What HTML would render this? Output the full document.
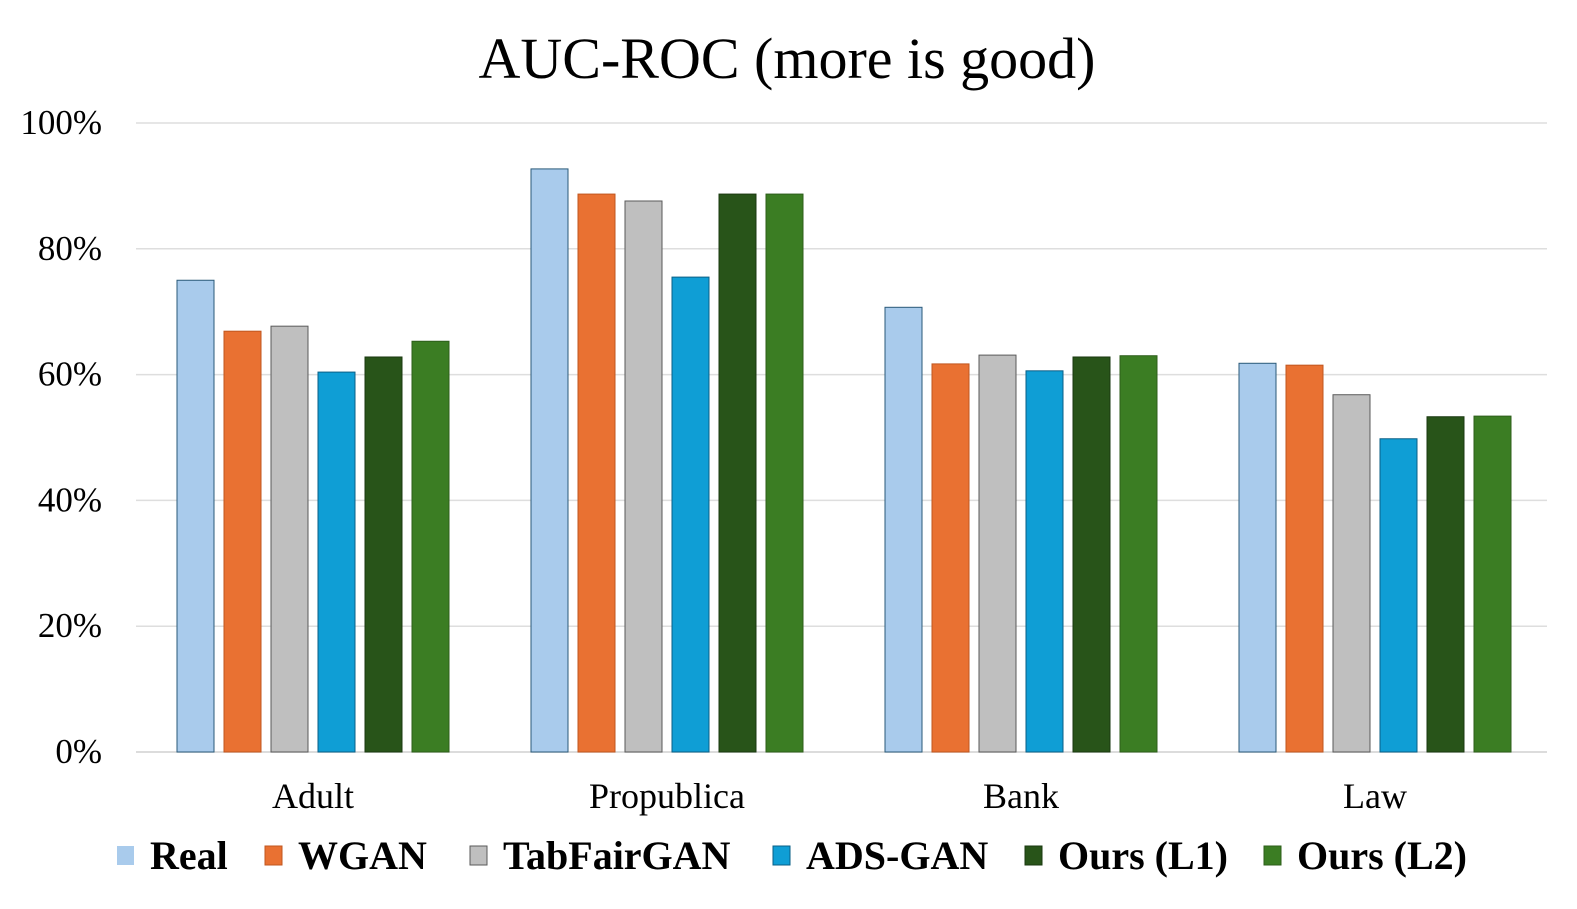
<!DOCTYPE html>
<html><head><meta charset="utf-8"><style>
body{margin:0;background:#fff}
svg{display:block;font-family:"Liberation Serif",serif}
</style></head><body>
<svg id="chart" width="1577" height="909" viewBox="0 0 1577 909">
<text x="787" y="78" text-anchor="middle" font-size="58">AUC-ROC (more is good)</text>
<g id="grid"></g><g id="bars"></g><g id="axes"></g><g id="legend"></g>
</svg>
<script>
const categories = ["Adult","Propublica","Bank","Law"];
const seriesNames = ["Real","WGAN","TabFairGAN","ADS-GAN","Ours (L1)","Ours (L2)"];
const real = [75.0, 92.7, 70.7, 61.8];
const wgan = [66.9, 88.7, 61.7, 61.5];
const tabfairgan = [67.7, 87.6, 63.1, 56.8];
const adsgan = [60.4, 75.5, 60.6, 49.8];
const oursL1 = [62.8, 88.7, 62.8, 53.3];
const oursL2 = [65.3, 88.7, 63.0, 53.4];
const yTicks = [0,20,40,60,80,100];
const series=[real,wgan,tabfairgan,adsgan,oursL1,oursL2];
const fills=["#a9cbec","#e97132","#bfbfbf","#0f9ed5","#285419","#3b7d23"];
const strokes=["#2a5a78","#c0561f","#5a5a5a","#0a5f86","#1a3810","#2c5e1a"];
const NS="http://www.w3.org/2000/svg";
const x0=136,x1=1552,yB=752,yT=123;
const y=v=>yB-(v/100)*(yB-yT);
const catW=(x1-x0)/categories.length;
const barW=37,step=47;
function el(t,a,p){const e=document.createElementNS(NS,t);for(const k in a)e.setAttribute(k,a[k]);p.appendChild(e);return e;}
const grid=document.getElementById('grid'),bars=document.getElementById('bars'),axes=document.getElementById('axes'),legend=document.getElementById('legend');
yTicks.forEach(t=>{
 const l=el('line',{x1:x0,x2:1547,y1:y(t),y2:y(t),stroke:t===0?'#d0d0d0':'#dedede','stroke-width':1.5},grid);
 
 
 const tx=el('text',{x:102,y:y(t)+11,'text-anchor':'end','font-size':35},axes);
 tx.textContent=t+'%';
 
 
});
categories.forEach((c,i)=>{
 const cx=x0+catW*(i+0.5);
 series.forEach((s,j)=>{
  const bx=cx-(series.length*step-(step-barW))/2+j*step;
  const r=el('rect',{x:bx,y:y(s[i]),width:barW,height:yB-y(s[i]),fill:fills[j],stroke:strokes[j],'stroke-width':1},bars);
  
  
 });
 const t=el('text',{x:cx,y:808,'text-anchor':'middle','font-size':36},axes);
 t.textContent=c;
 
 
});
const lx=[117,265,470,773,1025,1264];
seriesNames.forEach((n,j)=>{
 const g=el('g',{},legend);
 
 
 el('rect',{x:lx[j],y:846,width:17,height:19,fill:fills[j],stroke:j===0?'none':strokes[j],'stroke-width':1},g);
 const t=el('text',{x:lx[j]+33,y:869,'font-size':40,'font-weight':'bold'},g);
 t.textContent=n;
});
</script>
</body></html>
